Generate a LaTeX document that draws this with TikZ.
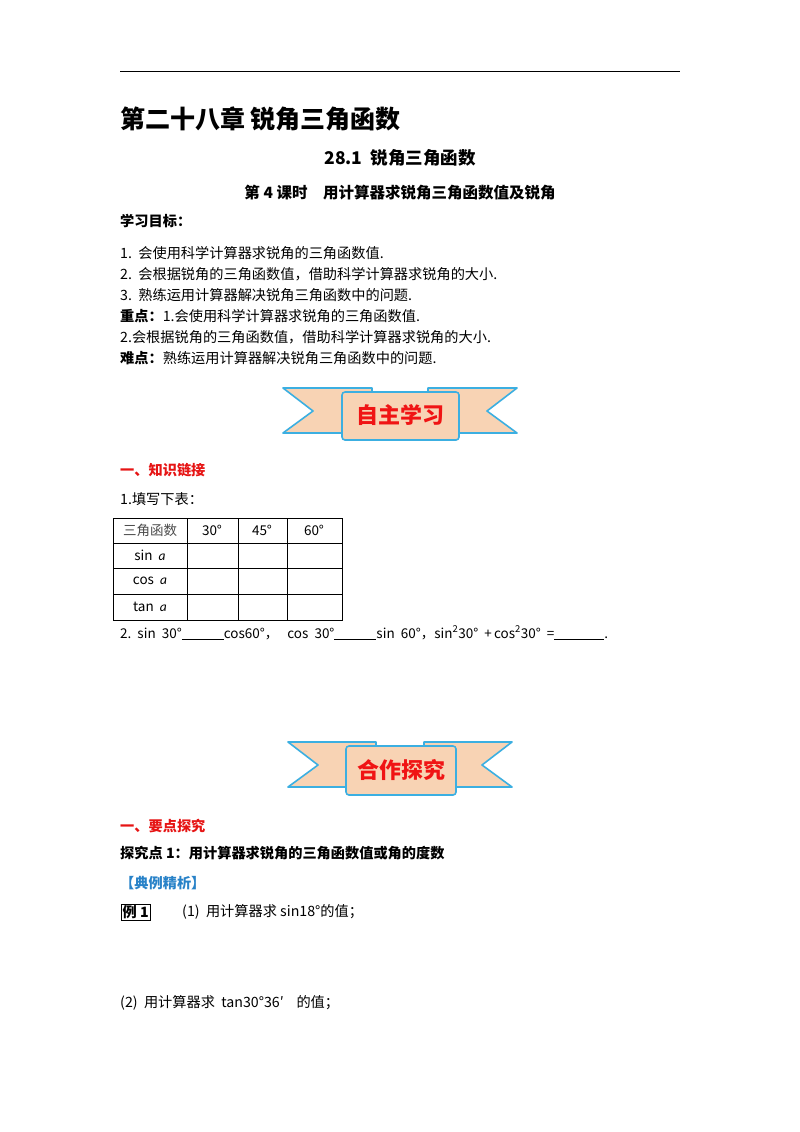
\documentclass[tikz,border=0pt]{standalone}
\usepackage{fontspec}
\setmainfont{Noto Sans CJK SC}
\newfontfamily\latinit{Carlito}
\begin{document}
\begin{tikzpicture}[x=1pt,y=-1pt,
  t/.style={anchor=west,inner sep=0pt,font=\fontsize{14.2}{16}\selectfont},
  tb/.style={t,font=\fontsize{14.2}{16}\selectfont\bfseries},
  red/.style={tb,text={rgb,255:red,230;green,20;blue,20}},
  cell/.style={inner sep=0pt,font=\fontsize{13.5}{15}\selectfont},
  tail/.style={fill={rgb,255:red,248;green,211;blue,180},draw={rgb,255:red,60;green,175;blue,225},line width=1.6pt,line join=round},
  btext/.style={font=\fontsize{22}{24}\selectfont\bfseries,text={rgb,255:red,240;green,20;blue,20}}]
\useasboundingbox (0,0) rectangle (800,1132);
\fill[white] (0,0) rectangle (800,1132);
\draw[line width=1pt] (120,72) -- (680,72);
\node[tb,font=\fontsize{25}{28}\selectfont\bfseries] (title) at (120,119) {第二十八章 锐角三角函数};
\node[inner sep=0pt,font=\fontsize{17.5}{20}\selectfont\bfseries] (sec) at (400,158) {28.1\ \ 锐角三角函数};
\node[inner sep=0pt,font=\fontsize{15.5}{18}\selectfont\bfseries] (sub) at (400,193) {第 4 课时\quad 用计算器求锐角三角函数值及锐角};
\node[tb] (goal) at (120,221) {学习目标：};
\node[t] (g1) at (120,253) {1.\ \ 会使用科学计算器求锐角的三角函数值.};
\node[t] (g2) at (120,274) {2.\ \ 会根据锐角的三角函数值，借助科学计算器求锐角的大小.};
\node[t] (g3) at (120,295) {3.\ \ 熟练运用计算器解决锐角三角函数中的问题.};
\node[t] (g4) at (120,316) {\textbf{重点：}1.会使用科学计算器求锐角的三角函数值.};
\node[t] (g5) at (120,337) {2.会根据锐角的三角函数值，借助科学计算器求锐角的大小.};
\node[t] (g6) at (120,358) {\textbf{难点：}熟练运用计算器解决锐角三角函数中的问题.};
% banner 1
\draw[tail] (283,388) -- (372,388) -- (372,433) -- (283,433) -- (313,411) -- cycle;
\draw[tail] (517,388) -- (428,388) -- (428,433) -- (517,433) -- (487,411) -- cycle;
\draw[tail,rounded corners=3pt] (342,392) rectangle (459,440);
\node[btext] (b1) at (400,415) {自主学习};
% banner 2
\draw[tail] (288,742) -- (376,742) -- (376,787) -- (288,787) -- (318,765) -- cycle;
\draw[tail] (512,742) -- (424,742) -- (424,787) -- (512,787) -- (482,765) -- cycle;
\draw[tail,rounded corners=3pt] (346,746) rectangle (456,795);
\node[btext] (b2) at (401,770) {合作探究};
\node[red] (k) at (120,470) {一、知识链接};
\node[t] (fill) at (120,499) {1.填写下表：};
% table
\draw[line width=0.6pt] (113,518) rectangle (342,620);
\foreach \y in {543,568,594} \draw[line width=0.6pt] (113,\y) -- (342,\y);
\foreach \x in {187,238,287} \draw[line width=0.6pt] (\x,518) -- (\x,620);
\node[cell,text=black!70] (h0) at (150,530) {三角函数};
\node[cell] (h1) at (212,530) {30°};
\node[cell] (h2) at (262,530) {45°};
\node[cell] (h3) at (314,530) {60°};
\node[cell] (r1) at (150,555) {sin\ \ {\latinit\itshape a}};
\node[cell] (r2) at (150,581) {cos\ \ {\latinit\itshape a}};
\node[cell] (r3) at (150,607) {tan\ \ {\latinit\itshape a}};
\node[t,font=\fontsize{13.5}{15}\selectfont] (q2) at (120,633) {2.\ \ sin\ \ 30°\underline{\hspace{42pt}}cos60°，\ \ \ cos\ \ 30°\underline{\hspace{42pt}}sin\ \ 60°，sin\textsuperscript{2}30°\ \ +\,cos\textsuperscript{2}30°\ \ =\underline{\hspace{50pt}}.};
\node[red] (y) at (120,826) {一、要点探究};
\node[tb] (p1) at (120,853) {探究点 1：用计算器求锐角的三角函数值或角的度数};
\node[tb,text={rgb,255:red,40;green,130;blue,200}] (dl) at (120,883) {【典例精析】};
\node[tb,draw,inner sep=1.5pt] (e1) at (121,912) {例 1};
\node[t] (e1a) at (182,912) {(1)\ \ 用计算器求 sin18°的值；};
\node[t] (e1b) at (120,1003) {(2)\ \ 用计算器求\ \ tan30°36′\ \ \ \ 的值；};
\end{tikzpicture}
\end{document}
